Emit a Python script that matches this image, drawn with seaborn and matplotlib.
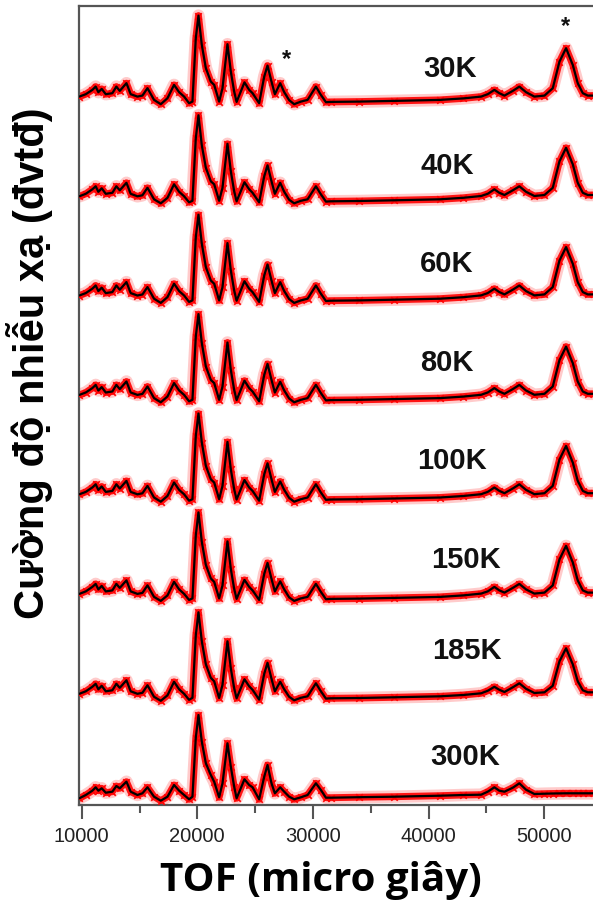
import numpy as np
import pandas as pd
import matplotlib
matplotlib.use("Agg")
import matplotlib.pyplot as plt
import matplotlib.font_manager as fm
import seaborn as sns
from matplotlib.ticker import MultipleLocator

# ---------------- data ----------------
temps = ["30K", "40K", "60K", "80K", "100K", "150K", "185K", "300K"]

tof = [9800, 10350, 10920, 11210, 11440, 11730, 12080, 12650, 13000, 13290,
       13870, 14240, 14820, 15250, 15690, 16260, 16840, 17420, 17990, 18430,
       18860, 19290, 19580, 19870, 20100, 20390, 20740, 21170, 21460, 21890,
       22180, 22610, 22900, 23190, 23400, 24080, 24490, 24780, 25350, 25790,
       26075, 26420, 26710, 27170, 27520, 27950, 28380, 28960, 29540, 30260,
       30690, 31130, 31560, 34000, 37000, 41000, 43000, 44550, 45120, 45700,
       46130, 46570, 47290, 47860, 48440, 49160, 50030, 50750, 51330, 51900,
       52480, 52910, 53350, 53780, 54500]

I_30K = [5.3, 7.7, 12, 15.3, 9.7, 13, 7.7, 8.7, 15.3, 11,
         18.7, 7.7, 5.3, 6.3, 13.7, 2, -2.3, 3.7, 17, 9.7,
         5.3, -1.3, 0.3, 63.7, 86.3, 57, 33.7, 20.3, 17, 0.3,
         13.7, 57.7, 30.3, 10.3, 0, 19.5, 12, 8.7, -1.3, 25.3,
         36.3, 20.3, 7.7, 18.7, 9.7, 1.7, -2.3, 0.3, 2, 15.3,
         7, -0.3, 0, 0.3, 1, 2, 3.5, 5.3, 7.7, 12,
         8.7, 6.3, 11, 15.3, 9.7, 5.3, 6.3, 13.7, 40.3, 53.7,
         37, 18.7, 8.7, 6.3, 6.3]
I_40K = [5.0, 7.5, 12, 15.0, 9.5, 13, 7.5, 8.5, 15.0, 11,
         18.5, 7.5, 5.0, 6.0, 13.5, 2, -2.0, 3.5, 17, 9.5,
         5.0, -1.0, 0.5, 63.0, 86.0, 56, 33.5, 20.0, 17, 0.5,
         13.5, 57.5, 30.0, 10.0, 0, 19.0, 12, 8.5, -1.0, 25.0,
         36.0, 20.0, 7.5, 18.5, 9.5, 1.5, -2.0, 0.5, 2, 15.0,
         7, -0.3, 0, 0.3, 1, 2, 3.5, 5.3, 7.5, 12,
         8.5, 6.3, 11, 15.0, 9.5, 5.3, 6.3, 13.5, 40.0, 53.5,
         37, 18.5, 8.5, 6.3, 6.3]
I_60K = [5.2, 7.6, 12, 15.2, 9.6, 13, 7.6, 8.6, 15.2, 11,
         18.6, 7.6, 5.2, 6.2, 13.6, 2, -2.2, 3.6, 17, 9.6,
         5.2, -1.2, 0.3, 63.5, 86.0, 57, 33.6, 20.2, 17, 0.3,
         13.6, 57.6, 30.2, 10.2, 0, 19.4, 12, 8.6, -1.2, 25.2,
         36.2, 20.2, 7.6, 18.5, 9.6, 1.6, -2.2, 0.3, 2, 15.2,
         7, -0.3, 0, 0.3, 1, 2, 3.5, 5.3, 7.6, 12,
         8.6, 6.3, 11, 15.2, 9.6, 5.3, 6.3, 13.6, 40.2, 53.6,
         37, 18.6, 8.6, 6.3, 6.3]
I_80K = [5.2, 7.6, 12, 15.2, 9.6, 13, 7.6, 8.6, 15.2, 11,
         18.6, 7.6, 5.2, 6.2, 13.6, 2, -2.2, 3.6, 17, 9.6,
         5.2, -1.2, 0.3, 63.5, 86.0, 57, 33.6, 20.2, 17, 0.3,
         13.6, 57.6, 30.2, 10.2, 0, 19.4, 12, 8.6, -1.2, 25.2,
         36.2, 20.2, 7.6, 18.3, 9.6, 1.6, -2.2, 0.3, 2, 15.2,
         7, -0.3, 0, 0.3, 1, 2, 3.5, 5.3, 7.6, 12,
         8.6, 6.3, 11, 15.2, 9.6, 5.3, 6.3, 13.6, 40.0, 53.5,
         37, 18.6, 8.6, 6.3, 6.3]
I_100K = [5.2, 7.6, 12, 15.2, 9.6, 13, 7.6, 8.6, 15.2, 11,
          18.6, 7.6, 5.2, 6.2, 13.6, 2, -2.2, 3.6, 17, 9.6,
          5.2, -1.2, 0.3, 63.5, 86.0, 57, 33.6, 20.2, 17, 0.3,
          13.6, 57.6, 30.2, 10.2, 0, 19.4, 12, 8.6, -1.2, 25.2,
          36.2, 20.2, 7.6, 18.0, 9.6, 1.6, -2.2, 0.3, 2, 15.2,
          7, -0.3, 0, 0.3, 1, 2, 3.5, 5.3, 7.6, 12,
          8.6, 6.3, 11, 15.2, 9.6, 5.3, 6.3, 13.6, 40.0, 53.5,
          37, 18.6, 8.6, 6.3, 6.3]
I_150K = [5.0, 7.5, 12, 15.0, 9.5, 13, 7.5, 8.5, 15.0, 11,
          18.5, 7.5, 5.0, 6.0, 13.5, 2, -2.0, 3.5, 17, 9.5,
          5.0, -1.0, 0.5, 63.5, 86.5, 57, 34.0, 20.5, 17, 0.5,
          13.5, 57.5, 30.0, 10.0, 0, 19.0, 12, 8.5, -1.0, 25.0,
          36.0, 20.0, 7.5, 17.5, 9.5, 1.5, -2.0, 0.5, 2, 15.0,
          7, -0.3, 0, 0.3, 1, 2, 3.5, 5.3, 7.5, 12,
          8.5, 6.3, 11, 15.0, 9.5, 5.3, 6.3, 13.5, 39.5, 53.0,
          36.5, 18.5, 8.5, 6.3, 6.3]
I_185K = [4.5, 7.0, 11.5, 14.5, 9.0, 12.5, 7.0, 8.0, 14.5, 10.5,
          18.0, 7.0, 4.5, 5.5, 13.0, 1.5, -2.5, 3.0, 16.5, 9.0,
          4.5, -1.5, 0.5, 63.0, 86.0, 57, 34.0, 20.5, 17, 0.3,
          13.5, 57.0, 30.0, 10.0, 0, 19.0, 12, 8.5, -1.3, 24.5,
          35.5, 19.5, 7.0, 16.5, 9.0, 1.5, -2.0, 0.5, 2, 15.0,
          7, -0.3, 0, 0.3, 1, 2, 3.3, 5.0, 7.5, 11.5,
          8.5, 6.3, 11, 15.0, 9.5, 5.3, 6.0, 12.5, 37.0, 50.0,
          34.0, 17.0, 8.0, 6.0, 6.0]
I_300K = [-0.6, 2.7, 7, 10.4, 7, 9.4, 5, 6, 11.7, 9.4,
          16, 6, 2.7, 4.4, 10.4, 1, -3, 1, 12.7, 7,
          2.7, -1.6, 1, 60.0, 82.7, 56, 34.4, 22.7, 16, 0.4,
          14.4, 54.4, 31, 11, -0.6, 18.4, 12.7, 10.4, -1.6, 21,
          32.7, 14.4, 4.4, 10.4, 6, 1, -1.6, 0.4, 2.7, 14.4,
          7.7, 0, 0, 0.5, 1, 2, 2.7, 3, 6, 10.4,
          7, 6, 10, 14.4, 8, 3.7, 4, 4.2, 4.3, 4.4,
          4.4, 4.4, 4.4, 4.4, 4.4]

series = [I_30K, I_40K, I_60K, I_80K, I_100K, I_150K, I_185K, I_300K]
xticks = [10000, 20000, 30000, 40000, 50000]
xlabel = "TOF (micro giây)"
ylabel = "Cường độ nhiễu xạ (đvtđ)"

# ---------------- layout / style ----------------
SPACING = 99.4
W, H = 593, 906
ax_l, ax_r, ax_t, ax_b = 79, 596, 6, 805


def px2x(px):
    return 10000 + (px - 81.7) * 10000 / 115.6


def py2y(py):
    return 797.7 - py


def find_font(name, bold):
    """Pick the regular-width file of a family (avoid the 'Narrow' variant)."""
    best = None
    for f in fm.fontManager.ttflist:
        if f.name != name:
            continue
        fname = f.fname.lower()
        if "narrow" in fname or "italic" in fname or "oblique" in fname:
            continue
        is_bold = (f.weight in ("bold", 700) or (isinstance(f.weight, int) and f.weight >= 700)
                   or "bold" in fname)
        if is_bold == bold:
            best = f.fname
            break
    return fm.FontProperties(fname=best) if best else fm.FontProperties(
        family=["Liberation Sans", "DejaVu Sans"], weight="bold" if bold else "normal")


arial_bold = find_font("Liberation Sans", True)
arial_reg = find_font("Liberation Sans", False)

frames = []
n = len(temps)
for k, (t, vals) in enumerate(zip(temps, series)):
    assert len(vals) == len(tof)
    off = (n - 1 - k) * SPACING
    frames.append(pd.DataFrame({"TOF": tof, "I": np.array(vals, float) + off, "T": t}))
df = pd.concat(frames, ignore_index=True)

sns.set_style("ticks")
plt.rcParams["font.family"] = ["Liberation Sans", "DejaVu Sans"]

fig = plt.figure(figsize=(W / 100, H / 100), dpi=100)
ax = fig.add_axes([ax_l / W, (H - ax_b) / H, (ax_r - ax_l) / W, (ax_b - ax_t) / H])

sns.lineplot(data=df, x="TOF", y="I", units="T", estimator=None, sort=False,
             color="#ff3030", lw=9, alpha=0.25, ax=ax, legend=False)
sns.lineplot(data=df, x="TOF", y="I", units="T", estimator=None, sort=False,
             color="red", lw=5, alpha=0.9, ax=ax, legend=False)
sns.scatterplot(data=df, x="TOF", y="I", marker="x", color="red", s=22,
                linewidth=1.2, ax=ax, legend=False, zorder=3)
sns.lineplot(data=df, x="TOF", y="I", units="T", estimator=None, sort=False,
             color="black", lw=1.6, ax=ax, legend=False, zorder=4)

ax.set_xlim(px2x(ax_l), px2x(ax_r))
ax.set_ylim(py2y(ax_b), py2y(ax_t))
ax.set_xticks(xticks)
ax.set_xticklabels([str(v) for v in xticks])
ax.xaxis.set_minor_locator(MultipleLocator(5000))
ax.set_yticks([])

for s in ["left", "bottom", "top", "right"]:
    ax.spines[s].set_color("#555555")
    ax.spines[s].set_linewidth(1.6)

ax.tick_params(axis="x", which="major", direction="out", length=10, width=1.5,
               color="#555555", labelsize=14.5, labelcolor="#222222", pad=6)
ax.tick_params(axis="x", which="minor", direction="out", length=6, width=1.5,
               color="#555555")
for lab in ax.get_xticklabels():
    lab.set_fontproperties(arial_reg)
    lab.set_fontsize(14.5)

ax.set_xlabel(xlabel, fontsize=29, fontweight="bold", family=["Open Sans", "DejaVu Sans"],
              color="black")
ax.xaxis.set_label_coords((320.5 - ax_l) / (ax_r - ax_l), (ax_b - 880) / (ax_b - ax_t))
ax.xaxis.label.set_va("center")

ax.set_ylabel(ylabel, color="black")
ax.yaxis.label.set_fontproperties(arial_bold)
ax.yaxis.label.set_fontsize(30)
ax.yaxis.set_label_coords((30 - ax_l) / (ax_r - ax_l), (ax_b - 363) / (ax_b - ax_t))
ax.yaxis.label.set_va("center")
ax.yaxis.label.set_ha("center")

# temperature labels (left x px, center y px)
label_pos = [(423, 69), (420, 166), (420, 264), (420, 363), (417, 461),
             (431, 560), (432, 651), (430, 757)]
for t, (lx, ly) in zip(temps, label_pos):
    ax.text(px2x(lx), py2y(ly), t, fontproperties=arial_bold, fontsize=21,
            ha="left", va="center", color="#111111")

# magnetic peak markers
for sx, sy in [(286.5, 60), (565, 27)]:
    ax.text(px2x(sx), py2y(sy), "*", fontproperties=arial_bold, fontsize=17,
            ha="center", va="center", color="#111111")

fig.savefig("out.png", dpi=100)
